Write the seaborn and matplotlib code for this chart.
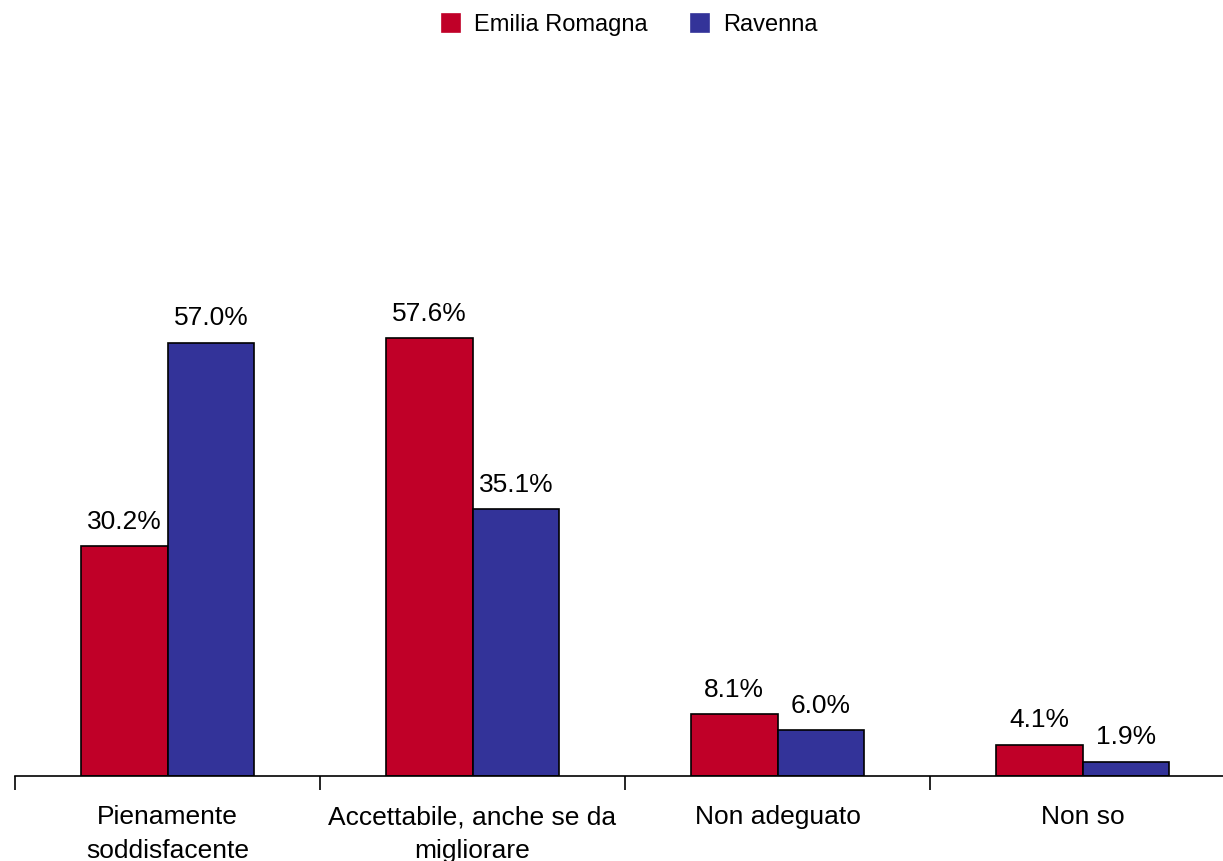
import numpy as np
import pandas as pd
import matplotlib
matplotlib.use("Agg")
import matplotlib.pyplot as plt
import seaborn as sns

# dati
categorie = ["Pienamente\nsoddisfacente", "Accettabile, anche se da\nmigliorare",
             "Non adeguato", "Non so"]
serie = ["Emilia Romagna", "Ravenna"]
emilia = [30.2, 57.6, 8.1, 4.1]
ravenna = [57.0, 35.1, 6.0, 1.9]
colori = ["#C00028", "#333399"]

df = pd.DataFrame({
    "categoria": categorie * 2,
    "serie": [serie[0]] * 4 + [serie[1]] * 4,
    "valore": emilia + ravenna,
})

sns.set_style("white")
plt.rcParams['font.family'] = ['Liberation Sans', 'DejaVu Sans']
plt.rcParams['text.color'] = 'black'
plt.rcParams['xtick.color'] = 'black'

fig = plt.figure(figsize=(12.23, 8.61), dpi=100)
ax = fig.add_axes([15 / 1223, 85 / 861, 1220 / 1223, 722 / 861])

sns.barplot(data=df, x="categoria", y="valore", hue="serie", palette=colori,
            width=0.57, gap=0, edgecolor="black", linewidth=1.2, saturation=1,
            ax=ax, legend=True)

for cont in ax.containers:
    ax.bar_label(cont, fmt="%.1f%%", padding=9, fontsize=19, color="black")

ax.set_ylim(0, 95)
ax.set_xlim(-0.5, 3.5)
ax.set_yticks([])
ax.set_xlabel("")
ax.set_ylabel("")
for s in ["left", "right", "top"]:
    ax.spines[s].set_visible(False)
ax.spines["bottom"].set_color("black")
ax.spines["bottom"].set_linewidth(1.2)

# tacche ai confini delle categorie
ax.set_xticks(np.arange(-0.5, 4.0, 1.0), minor=True)
ax.tick_params(axis="x", which="minor", bottom=True, length=10, width=1.2,
               color="black", direction="out")
ax.tick_params(axis="x", which="major", bottom=True, length=0, pad=21,
               labelsize=19, labelcolor="black")
for t in ax.get_xticklabels():
    t.set_linespacing(1.5)

handles, labels = ax.get_legend_handles_labels()
for h in handles:
    h.set_edgecolor(h.get_facecolor())
ax.get_legend().remove()
fig.legend(handles, labels, loc="upper center", bbox_to_anchor=(0.515, 1.008), ncol=2,
           frameon=False, fontsize=17, handlelength=0.75, handleheight=0.75,
           handletextpad=0.6, columnspacing=1.85)

fig.savefig("out.png", dpi=100)
